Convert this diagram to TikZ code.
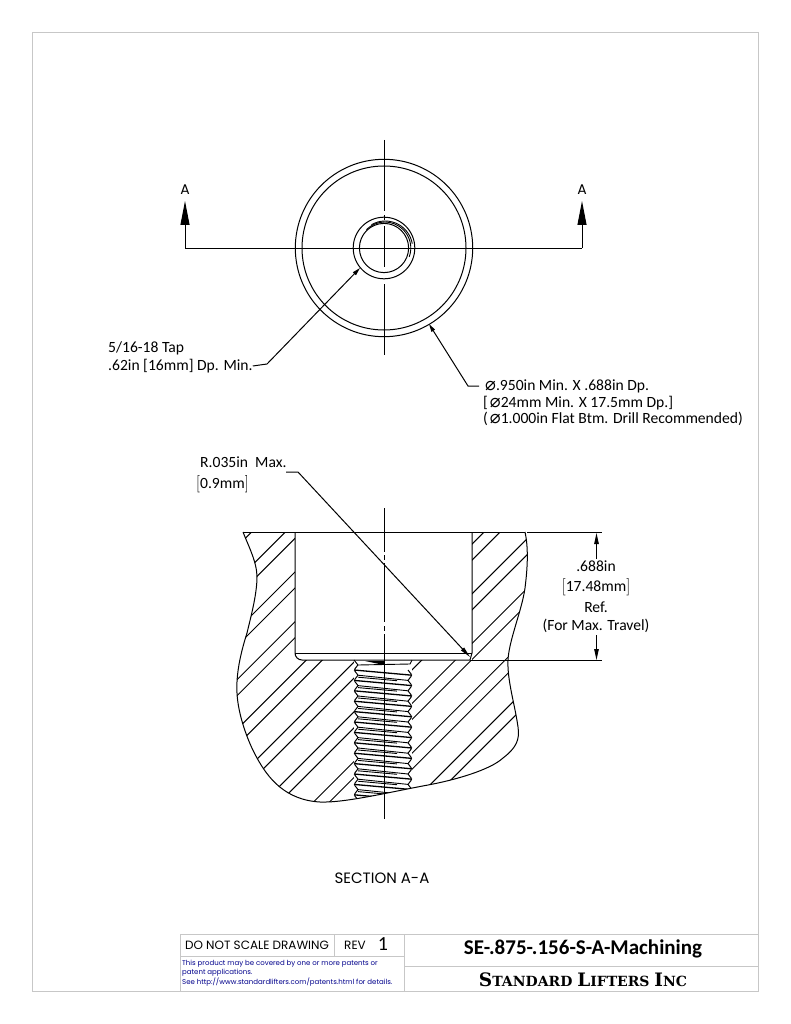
\documentclass[tikz,border=0pt]{standalone}
\usepackage{graphicx}
\usepackage{fontspec}
\setmainfont{Carlito}
\newfontfamily\geofont{Poppins}
\newfontfamily\symfont{DejaVu Sans}
\newfontfamily\lifterfont{DejaVu Serif}
\usetikzlibrary{arrows.meta}
\newcommand{\dia}{\smash{\symfont\fontsize{18}{18}\selectfont ⌀}}
\newcommand{\tallL}{\smash{\scalebox{1}[1.2]{$\Bigl[$}}}
\newcommand{\tallR}{\smash{\scalebox{1}[1.2]{$\Bigr]$}}}
\newcommand{\blockoutline}{(243,532) .. controls (248,545) and (257,562) .. (257,577)
  .. controls (257,595) and (250,620) .. (247,633)
  .. controls (240,655) and (236,675) .. (237,693)
  .. controls (238,715) and (248,742) .. (257,758)
  .. controls (268,778) and (285,800) .. (320,802)
  .. controls (345,803) and (390,792) .. (428,785)
  .. controls (455,780) and (490,770) .. (503,758)
  .. controls (516,748) and (520,740) .. (518,727)
  .. controls (515,705) and (507,680) .. (508,660)
  .. controls (509,640) and (522,610) .. (525,588)
  .. controls (527,572) and (529,550) .. (525,532)}
\tikzset{
  part/.style={draw=black, line width=1pt},
  thin part/.style={draw=black, line width=0.9pt},
  sheet/.style={draw=black!22, line width=1pt},
  note/.style={inner sep=0pt, anchor=west, font=\fontsize{15.6}{15.6}\selectfont},
  dimtext/.style={inner sep=0pt, font=\fontsize{15.6}{15.6}\selectfont},
  leader/.style={draw=black, line width=1pt, -{Triangle[length=8pt,width=4pt]}},
  cutarrow/.style={draw=black, line width=1pt, -{Triangle[length=24pt,width=9pt]}},
  dimarrow/.style={draw=black, line width=1pt, -{Triangle[length=11pt,width=4.5pt]}},
  patent/.style={inner sep=0pt, anchor=west, text=blue!55!black, font=\geofont\fontsize{7}{7}\selectfont}
}
\begin{document}
\begin{tikzpicture}[x=1pt, y=-1pt]
  \useasboundingbox (0,0) rectangle (791,1024);
  \fill[white] (0,0) rectangle (791,1024);
  \draw[sheet] (32,33) rectangle (758,991);
  % top view
  \coordinate (hub) at (384,248);
  \draw[part] (hub) circle[radius=88.7];
  \draw[part] (hub) circle[radius=82];
  \draw[part] (hub) circle[radius=30.8];
  \draw[part] (hub) circle[radius=24.6];
  \draw[thin part] (384.8,248) ++(-135:26) arc[start angle=-135, end angle=20, radius=26];
  \draw[thin part] (385.2,248.5) ++(-120:27.5) arc[start angle=-120, end angle=-10, radius=27.5];
  \draw[part] (384,140) -- (384,211);
  \draw[part] (384,215) -- (384,220);
  \draw[part] (384,226) -- (384,267);
  \draw[part] (384,284) -- (384,355);
  \coordinate (cutL) at (185,248);
  \coordinate (cutR) at (582,248);
  \coordinate (cutLtip) at (185,201);
  \coordinate (cutRtip) at (582,201);
  \draw[part] (cutL) -- (cutR);
  \draw[cutarrow] (cutL) -- (cutLtip);
  \draw[cutarrow] (cutR) -- (cutRtip);
  \node[inner sep=0pt, font=\geofont\fontsize{14}{14}\selectfont] (labelAL) at (185,190) {A};
  \node[inner sep=0pt, font=\geofont\fontsize{14}{14}\selectfont] (labelAR) at (582,190) {A};
  % top view callouts
  \node[note] (tapA) at (108,348) {5/16-18 Tap};
  \node[note] (tapB) at (108,366) {.62in [16mm] Dp. Min.};
  \coordinate (tapElbow) at (267,364);
  \coordinate (tapTip) at (360,268);
  \draw[leader] (tapB.east) -- (tapElbow) -- (tapTip);
  \node[note] (boreA) at (485,386) {\dia.950in Min. X .688in Dp.};
  \node[note] (boreB) at (483,403) {[\kern2pt\dia 24mm Min. X 17.5mm Dp.]};
  \node[note] (boreC) at (483,419) {(\kern2pt\dia 1.000in Flat Btm. Drill Recommended)};
  \coordinate (boreElbow) at (468,386);
  \coordinate (boreTip) at (429,324);
  \draw[leader] (boreA.west) ++(-6,0) -- (boreElbow) -- (boreTip);
  % section view
  \begin{scope}
    \clip \blockoutline -- cycle;
    % hatch pairs
    \foreach \k in {-1,0,...,9} {
      \pgfmathsetmacro{\ca}{817.3+49.7*\k}
      \pgfmathsetmacro{\cb}{\ca+16}
      \draw[part] (100,\ca-100) -- (700,\ca-700);
      \draw[part] (100,\cb-100) -- (700,\cb-700);
    }
    \fill[white] (295,520) rectangle (472,660);
    \fill[white] (354,660) rectangle (412,810);
    % thread
    \foreach \k in {0,...,12} {
      \pgfmathsetmacro{\ya}{670+10.4*\k}
      \pgfmathsetmacro{\yb}{\ya+5.2}
      \pgfmathsetmacro{\yc}{\ya+10.4}
      \pgfmathsetmacro{\yd}{\ya-5.2}
      \draw[part, rounded corners=1.5pt] (358,\yd) -- (354,\ya) -- (358,\yb);
      \draw[part, rounded corners=1.5pt] (408,\ya) -- (412,\yb) -- (408,\yc);
      \draw[line width=1.3pt] (354,\ya) -- (412,\yb);
      \draw[thin part] (358,\yb) -- (408,\yc);
      \draw[thin part] (358,\yb+2) -- (397,\yb+5.5);
    }
  \end{scope}
  \fill[black] (365,661) -- (384,661) -- (384,665) -- cycle;
  \draw[thin part] (354,660) -- (358,665) -- (410,664) -- (412,660);
  \draw[part] \blockoutline;
  \draw[part] (243,532) -- (525,532);
  \draw[part] (295,532) -- (295,653) arc[start angle=180, end angle=90, radius=7] -- (470,660) -- (472,653) -- (472,532);
  \draw[part] (295,653) -- (472,653);
  % centre line
  \foreach \ya/\yb in {508/552,555/560,563/622,626/631,634/819}
    \draw[part] (384,\ya) -- (384,\yb);
  % depth dimension
  \coordinate (depthTop) at (527,532);
  \coordinate (depthTopEnd) at (602,532);
  \coordinate (depthBot) at (470,660);
  \coordinate (depthBotEnd) at (602,660);
  \draw[part] (depthTop) -- (depthTopEnd);
  \draw[part] (depthBot) -- (depthBotEnd);
  \coordinate (depthUp) at (596.5,559);
  \coordinate (depthUpTip) at (596.5,533);
  \coordinate (depthDown) at (596.5,635);
  \coordinate (depthDownTip) at (596.5,660);
  \draw[dimarrow] (depthUp) -- (depthUpTip);
  \draw[dimarrow] (depthDown) -- (depthDownTip);
  \node[dimtext] (depthA) at (596,566) {.688in};
  \node[dimtext] (depthB) at (596,586) {\tallL 17.48mm\tallR};
  \node[dimtext] (depthC) at (596,607) {Ref.};
  \node[dimtext] (depthD) at (596,626) {(For Max. Travel)};
  % radius callout
  \node[note] (radA) at (200,462) {R.035in\ \ Max.};
  \node[note] (radB) at (196,483) {\tallL 0.9mm\tallR};
  \coordinate (radStart) at (286,472);
  \coordinate (radElbow) at (298,472);
  \coordinate (radTip) at (470,657);
  \draw[leader, -{Triangle[length=11pt,width=4pt]}] (radStart) -- (radElbow) -- (radTip);
  \node[inner sep=0pt, font=\geofont\fontsize{15}{15}\selectfont] (sectionName) at (382,878) {SECTION A-A};
  % title block
  \draw[sheet] (180,934) rectangle (758,991);
  \draw[sheet] (180,956) -- (404,956);
  \draw[sheet] (404,966) -- (758,966);
  \draw[sheet] (334,934) -- (334,956);
  \draw[sheet] (404,934) -- (404,991);
  \node[inner sep=0pt, font=\geofont\fontsize{12}{12}\selectfont] (noScale) at (257,945) {DO NOT SCALE DRAWING};
  \node[inner sep=0pt, font=\geofont\fontsize{12}{12}\selectfont] (revName) at (355,945) {REV};
  \node[inner sep=0pt, font=\fontsize{20}{20}\selectfont] (revValue) at (383,944) {1};
  \node[patent] (patA) at (182,964) {This product may be covered by one or more patents or};
  \node[patent] (patB) at (182,973) {patent applications.};
  \node[patent] (patC) at (182,982) {See http://www.standardlifters.com/patents.html for details.};
  \node[inner sep=0pt, font=\bfseries\fontsize{21}{21}\selectfont] (partName) at (583,949) {SE-.875-.156-S-A-Machining};
  \node[inner sep=0pt, font=\lifterfont\bfseries] (company) at (583,980) {\fontsize{18.5}{18}\selectfont S\fontsize{14}{14}\selectfont TANDARD \fontsize{18.5}{18}\selectfont L\fontsize{14}{14}\selectfont IFTERS \fontsize{18.5}{18}\selectfont I\fontsize{14}{14}\selectfont NC};
\end{tikzpicture}
\end{document}
